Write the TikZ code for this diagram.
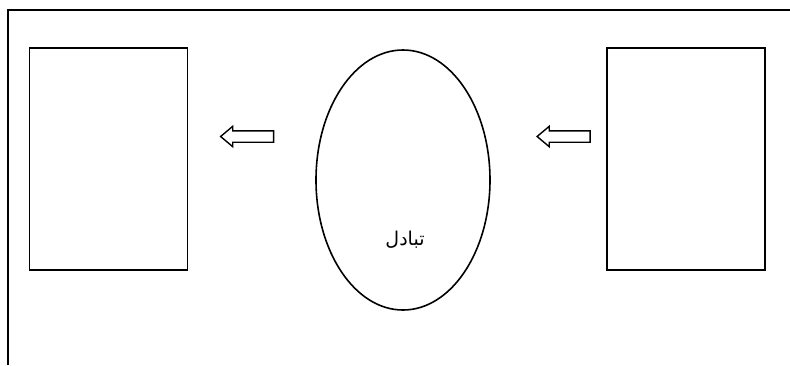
\documentclass[tikz,border=0pt]{standalone}
\usepackage{fontspec}
\newfontfamily\arabicfont[Script=Arabic]{DejaVu Sans}
\TeXXeTstate=1
\usetikzlibrary{shapes.geometric,shapes.arrows}
\definecolor{ink}{HTML}{000000}
\tikzset{
  panel/.style={draw=ink,line width=1.6pt,minimum width=158pt,minimum height=222pt,inner sep=0pt},
  oval/.style={ellipse,draw=ink,line width=1.6pt,minimum width=174pt,minimum height=260pt,inner sep=0pt},
  flow/.style={single arrow,draw=ink,line width=1.4pt,shape border rotate=180,
    inner xsep=0pt,inner ysep=5pt,single arrow head extend=4.5pt,single arrow tip angle=80,minimum height=53pt},
  word/.style={font=\arabicfont\fontsize{19}{22}\selectfont,text=ink},
}
\begin{document}
\begin{tikzpicture}[x=1pt,y=-1pt]
  \useasboundingbox (0,0) rectangle (790,365);
  % frame
  \draw[ink,line width=1.6pt] (8,365) -- (8,10) -- (790,10);
  \node[panel] (left) at (108.5,159) {};
  \node[panel] (right) at (686,159) {};
  \node[oval] (mid) at (403,180) {};
  \node[flow] (toleft) at (250.5,136.5) {};
  \node[flow] (tomid) at (567,136.5) {};
  \node[word] (label) at (405,240) {\beginR تبادل\endR};
\end{tikzpicture}
\end{document}
